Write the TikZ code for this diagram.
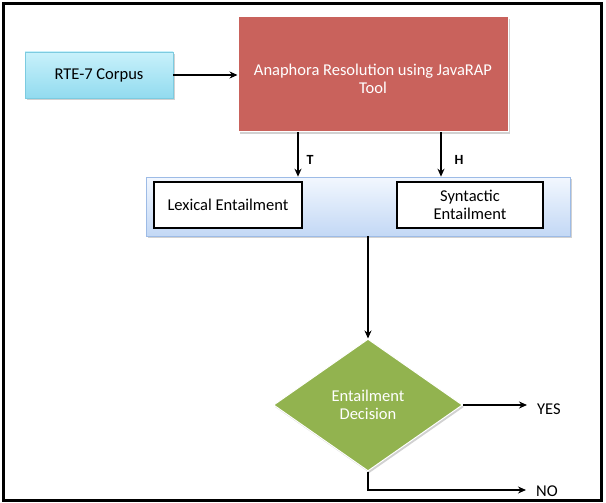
\documentclass[tikz,border=0pt]{standalone}
\usepackage{fontspec}
\setmainfont{Carlito}
\usetikzlibrary{shapes.geometric,arrows.meta,shadows,calc}
\definecolor{corpustop}{HTML}{C8F1FB}
\definecolor{corpusbot}{HTML}{92DBEF}
\definecolor{corpusline}{HTML}{7CCBE0}
\definecolor{anared}{HTML}{C9625C}
\definecolor{paneltop}{HTML}{F2F7FE}
\definecolor{panelbot}{HTML}{C3D8F5}
\definecolor{panelline}{HTML}{9DBBE6}
\definecolor{decgreen}{HTML}{92B34F}
\tikzset{
  x=1pt, y=-1pt,
  every node/.style={font=\fontsize{16.5}{18}\selectfont, inner sep=0pt},
  softshadow/.style={drop shadow={shadow xshift=1.5pt, shadow yshift=-2pt, opacity=0.3, fill=black!60}},
  corpusbox/.style={rectangle, draw=corpusline, line width=0.6pt, top color=corpustop, bottom color=corpusbot,
    minimum width=148pt, minimum height=46pt, softshadow},
  anabox/.style={rectangle, fill=anared, draw=white, line width=1pt,
    minimum width=270pt, minimum height=115pt, softshadow},
  panelbox/.style={rectangle, draw=panelline, line width=0.6pt, top color=paneltop, bottom color=panelbot,
    minimum width=424pt, minimum height=59pt, softshadow},
  entbox/.style={rectangle, draw=black, line width=1.6pt, fill=white, align=center,
    minimum width=148pt, minimum height=46pt},
  decbox/.style={diamond, fill=decgreen, draw=white, line width=1pt, text=white, align=center,
    minimum width=189pt, minimum height=132pt, softshadow},
  flow/.style={line width=1.4pt, -{Stealth[length=8pt, width=7pt]}},
  tag/.style={font=\fontsize{14}{16}\selectfont\bfseries},
  outcome/.style={anchor=west}
}
\begin{document}
\begin{tikzpicture}
\useasboundingbox (0,0) rectangle (606,503);
% outer frame
\draw[line width=3pt] (3.5,3.5) rectangle (601,500);

% blocks
\node[corpusbox] (corpus) at (99,75) {RTE-7 Corpus};
\node[anabox] (ana) at (373,74.5) {};
\node[text=white, align=center] (anatext) at (373,79) {Anaphora Resolution using JavaRAP\\Tool};
\node[panelbox] (panel) at (358,206.5) {};
\node[entbox] (lex) at (228,205) {Lexical Entailment};
\node[entbox, minimum width=146pt] (syn) at (470,205) {Syntactic\\Entailment};
\node[decbox] (dec) at (368,405) {Entailment\\Decision};
\node[outcome] (yes) at (537,409) {YES};
\node[outcome] (no) at (536,491) {NO};

% helper x positions for the two downward arrows and the NO bend
\coordinate (tx) at (298,0);
\coordinate (hx) at (441,0);
\coordinate (nobend) at (368,490);

% connectors
\draw[flow] (corpus.east) -- (ana.west |- corpus.east);
\draw[flow] (ana.south -| tx) -- node[tag, right=8pt, pos=0.62] {T} (panel.north -| tx);
\draw[flow] (ana.south -| hx) -- node[tag, right=13pt, pos=0.62] {H} (panel.north -| hx);
\draw[flow] (panel.south -| dec.north) -- (dec.north);
\draw[flow] (dec.east) -- ([xshift=-10pt]yes.west |- dec.east);
\draw[flow] (dec.south) -- (nobend) -- ([xshift=-10pt]no.west |- nobend);
\end{tikzpicture}
\end{document}
